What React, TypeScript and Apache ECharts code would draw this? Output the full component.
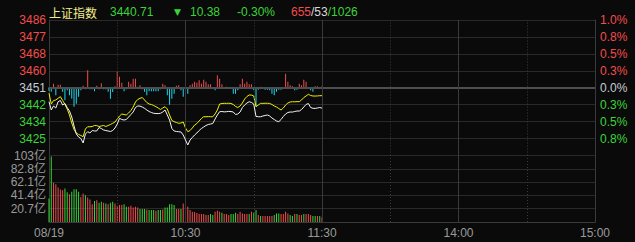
import React, { useEffect, useRef } from 'react';
import * as echarts from 'echarts';

// ---- data ----
const prevClose = 3451.09;
const indexName = '上证指数';
const breadth = [655, 53, 1026]; // up / flat / down
const tickIdx = [0, 60, 120, 180, 240];
const tickLabels = ['08/19', '10:30', '11:30', '14:00', '15:00'];
const solidIdx = [60, 120, 180];
const dottedIdx = [30, 90, 150, 210];

// weighted index (white)
const priceLine = [
  3443.98, 3439.76, 3441.79, 3440.77, 3443.98, 3444.60, 3442.30, 3443.07, 3441.03, 3439.25,
  3436.19, 3431.61, 3427.53, 3426.00, 3425.24, 3422.95, 3427.53, 3428.70, 3428.04, 3429.31,
  3429.06, 3429.10, 3430.84, 3430.33, 3429.57, 3429.31, 3429.06, 3428.80, 3429.31, 3430.59,
  3432.62, 3435.53, 3434.92, 3434.66, 3434.92, 3436.19, 3437.46, 3438.74, 3441.03, 3441.79,
  3441.75, 3441.28, 3440.62, 3439.76, 3438.99, 3438.48, 3438.07, 3437.97, 3437.92, 3438.07,
  3438.74, 3439.76, 3437.21, 3434.66, 3430.33, 3429.06, 3428.80, 3428.70, 3428.55, 3427.02,
  3424.47, 3421.93, 3424.47, 3425.75, 3427.02, 3428.04, 3429.31, 3430.33, 3431.10, 3431.86,
  3432.37, 3432.62, 3432.88, 3435.17, 3437.21, 3438.89, 3438.99, 3438.80, 3438.89, 3439.05,
  3438.95, 3438.74, 3437.46, 3437.72, 3438.74, 3441.03, 3442.30, 3443.32, 3443.98, 3443.58,
  3442.81, 3436.44, 3436.34, 3436.30, 3436.70, 3436.95, 3437.21, 3436.70, 3435.68, 3434.92,
  3434.15, 3433.80, 3434.92, 3436.44, 3437.72, 3438.48, 3438.74, 3438.70, 3438.99, 3439.25,
  3439.20, 3440.01, 3441.28, 3442.56, 3443.07, 3441.03, 3440.62, 3440.58, 3440.77, 3441.03,
  3440.71,
];

// unweighted index (yellow)
const avgLine = [
  3448.26, 3442.81, 3444.60, 3444.85, 3445.72, 3446.53, 3444.60, 3442.56, 3440.27, 3437.21,
  3433.13, 3429.82, 3428.04, 3427.28, 3426.77, 3426.15, 3430.08, 3431.25, 3431.20, 3431.35,
  3431.86, 3431.80, 3431.35, 3431.61, 3431.86, 3431.35, 3431.86, 3432.37, 3432.98, 3433.64,
  3435.17, 3436.70, 3437.72, 3437.46, 3437.21, 3438.23, 3439.50, 3441.28, 3443.83, 3445.10,
  3445.72, 3446.12, 3444.85, 3443.58, 3442.81, 3442.56, 3442.05, 3441.44, 3440.77, 3440.01,
  3440.77, 3441.44, 3440.27, 3437.21, 3434.41, 3433.80, 3433.39, 3432.98, 3433.13, 3433.64,
  3430.59, 3428.70, 3429.31, 3430.59, 3432.11, 3432.88, 3434.15, 3435.43, 3436.34, 3436.30,
  3436.40, 3436.34, 3436.30, 3437.72, 3439.76, 3442.81, 3443.07, 3443.17, 3443.12, 3443.20,
  3443.07, 3442.56, 3441.54, 3441.03, 3441.79, 3443.32, 3445.36, 3446.63, 3447.40, 3447.35,
  3446.89, 3441.44, 3442.30, 3443.17, 3443.12, 3443.20, 3443.17, 3443.10, 3442.56, 3441.79,
  3441.28, 3440.52, 3439.76, 3440.77, 3442.30, 3443.32, 3443.83, 3443.98, 3443.93, 3444.02,
  3443.98, 3444.85, 3446.12, 3446.89, 3447.75, 3447.14, 3446.89, 3446.85, 3446.92, 3447.04,
  3447.04,
];

// buy/sell strength bars (red up, cyan down)
const strength = [
  -3, -4, 4, -7.5, 3, 3, -4, -12.5, -2.5, -7.5,
  -10.8, -19, -16, -9, -2.5, 2, -1.5, 17.5, -1.5, -1.5,
  -3.5, 2, -1.5, 4.5, -1.5, -1.5, -4, -11, -4.2, 1.5,
  16, 11, 5, -3.5, -1.5, 6, 4, 9, 9, 1,
  2.5, -1.5, -4, -7.5, -3.5, -3.5, -3.5, -3.5, -3.5, -1.5,
  4, 2.5, -7.5, -17, -11, -6, 2, 2.5, -2.5, -9,
  -14, -6, 2.5, 4, 6, 5, 7.5, 4, 8, 6,
  3.5, 3.5, -1, -2.5, 12.5, 9, 3.5, -1, 1, -1,
  -1, -6, -6, -2.5, 3.5, 9, 4, 6, 3.5, 3.5,
  -2.5, -19, -2, 1, -1, -2, -2, -2.5, -6, -7.5,
  -4, -2, -2, -1, 14, 6, 2.5, 1.5, -2.5, -2,
  4, 2.5, 8, 6, -1, -2.5, -4, 1.5, 1.5, -1,
  1.5,
];

// volume, 亿
const volume = [
  36.6, 102, 61, 58.7, 53.6, 50.5, 49.4, 52, 46.4, 43.3,
  46.9, 51, 51, 46.9, 39, 44.3, 41.7, 38, 35, 27.8,
  32.5, 34, 29.9, 31.4, 29.9, 28.9, 27.8, 29.9, 31.4, 28.9,
  25.2, 26.3, 26.3, 27.8, 23.7, 23.7, 25.2, 22.7, 23.7, 22.7,
  20.1, 20.1, 20.1, 19.6, 18.5, 18.5, 18.5, 17.5, 18.5, 18.5,
  19.6, 22.7, 22.7, 27.8, 27.8, 26.3, 20.1, 20.1, 20.1, 28.9,
  30.4, 23.7, 18.5, 16, 15.5, 14, 12.4, 12.4, 12.4, 10.8,
  10.8, 12.4, 10.8, 16, 17.5, 16, 14.4, 12.4, 12.4, 10.8,
  12.4, 12.4, 14.4, 12.4, 16, 13.4, 12.4, 12.4, 12.4, 16,
  14.4, 18.5, 10.8, 9.3, 9.3, 9.3, 9.3, 9.3, 9.3, 10.8,
  13.4, 13.4, 12.4, 12.4, 16, 13.4, 10.8, 9.3, 12.4, 12.4,
  10.8, 10.8, 12.4, 12.4, 12.4, 10.8, 9.3, 9.3, 9.3, 9.3,
  7.2,
];

// volume bar colour: R = up minute, G = down minute
const volDir = (
  'GGRRRRRGGR' + 'GGGGRRGRRR' + 'GRGGRGRGGR' + 'RRRGGRRRRR' + 'GGGRGGGRGG' +
  'RGGGGGRRGR' + 'GRRRRRRRRR' + 'RGGRRRGRRR' + 'GGGRRRRRGR' + 'GGRGRRRRRG' +
  'GGRRRRGGRG' + 'RRGRRRGGRG' + 'R'
).split('');

// ---- styling ----
const RED = '#f24c4c';
const GREEN = '#3ad43a';
const CYAN = '#19d9f0';
const GRID = '#2a2a2a';
const BORDER = '#3a3a3a';
const AXIS_TXT = '#9a9a9a';
const FONT = '"Liberation Sans", Arial, "Noto Sans CJK SC", sans-serif';

export default function App() {
  const ref = useRef<HTMLDivElement>(null);

  useEffect(() => {
    if (!ref.current) return;
    const chart = echarts.init(ref.current, undefined, { renderer: 'svg' });

    const cats = Array.from({ length: 241 }, (_, i) => String(i));
    const pct = (p: number) => (p / prevClose - 1) * 100;
    const last = priceLine[priceLine.length - 1];
    const chg = last - prevClose;
    const chgPct = (chg / prevClose) * 100;
    const chgColor = chg < 0 ? GREEN : RED;

    const vMarks = (gridLabel: string) => ({
      silent: true,
      symbol: ['none', 'none'],
      label: { show: false },
      emphasis: { disabled: true },
      data: [
        ...solidIdx.map((i) => ({ xAxis: String(i), lineStyle: { color: BORDER, width: 1, type: 'solid' } })),
        ...dottedIdx.map((i) => ({ xAxis: String(i), lineStyle: { color: '#3a3a3a', width: 1, type: [1, 2] } })),
      ],
    });

    const option: any = {
      animation: false,
      backgroundColor: '#0a0a0a',
      textStyle: { fontFamily: FONT },
      grid: [
        { left: 49, right: 40, top: 20, height: 135.5 },
        { left: 49, right: 40, top: 155.5, height: 66.5 },
      ],
      graphic: [
        {
          type: 'text', x: 49, y: 12,
          style: { text: indexName, fill: '#f2ee8a', font: '12px "Noto Sans CJK SC", sans-serif', verticalAlign: 'middle' },
        },
        {
          type: 'text', x: 110, y: 12,
          style: { text: last.toFixed(2), fill: chgColor, font: '12px ' + FONT, verticalAlign: 'middle' },
        },
        {
          type: 'text', x: 174, y: 12,
          style: { text: chg < 0 ? '▼' : '▲', fill: chgColor, font: '9px "DejaVu Sans", sans-serif', verticalAlign: 'middle' },
        },
        {
          type: 'text', x: 190, y: 12,
          style: { text: Math.abs(chg).toFixed(2), fill: chgColor, font: '12px ' + FONT, verticalAlign: 'middle' },
        },
        {
          type: 'text', x: 237, y: 12,
          style: { text: chgPct.toFixed(2) + '%', fill: chgColor, font: '12px ' + FONT, verticalAlign: 'middle' },
        },
        {
          type: 'text', x: 291, y: 12,
          style: {
            text: `{r|${breadth[0]}}{w|/${breadth[1]}}{g|/${breadth[2]}}`,
            font: '12px ' + FONT,
            verticalAlign: 'middle',
            rich: {
              r: { fill: RED, font: '12px ' + FONT },
              w: { fill: '#d8d8d8', font: '12px ' + FONT },
              g: { fill: GREEN, font: '12px ' + FONT },
            },
          },
        },
      ],
      xAxis: [
        {
          type: 'category', gridIndex: 0, data: cats, boundaryGap: false,
          axisLine: { show: true, lineStyle: { color: '#3c3c3c', width: 2 } },
          axisTick: { show: false }, axisLabel: { show: false }, splitLine: { show: false },
        },
        {
          type: 'category', gridIndex: 1, data: cats, boundaryGap: false,
          axisLine: { show: true, lineStyle: { color: BORDER, width: 1 } },
          axisTick: { show: false },
          axisLabel: {
            show: true,
            interval: (i: number) => tickIdx.includes(i),
            formatter: (v: string) => {
              const k = tickIdx.indexOf(Number(v));
              return k >= 0 ? tickLabels[k] : '';
            },
            color: AXIS_TXT, fontSize: 12, margin: 5, fontFamily: FONT,
          },
          splitLine: { show: false },
        },
      ],
      yAxis: [
        {
          type: 'value', gridIndex: 0, position: 'left', min: -1, max: 1, interval: 0.25,
          axisLine: { show: true, lineStyle: { color: BORDER } },
          axisTick: { show: false },
          splitLine: { show: true, lineStyle: { color: GRID, width: 1 } },
          axisLabel: {
            margin: 3, fontSize: 12, fontFamily: FONT,
            formatter: (v: number) => (v <= -0.999 ? '' : String(Math.round(prevClose * (1 + v / 100)))),
            color: (v: any) => {
              const n = Number(v);
              return n > 0.001 ? RED : n < -0.001 ? GREEN : '#c4ccd4';
            },
          },
        },
        {
          type: 'value', gridIndex: 0, position: 'right', min: -1, max: 1, interval: 0.25,
          axisLine: { show: true, lineStyle: { color: BORDER } },
          axisTick: { show: false },
          splitLine: { show: false },
          axisLabel: {
            margin: 5, fontSize: 12, fontFamily: FONT,
            formatter: (v: number) => (v <= -0.999 ? '' : Math.abs(v).toFixed(1) + '%'),
            color: (v: any) => {
              const n = Number(v);
              return n > 0.001 ? RED : n < -0.001 ? GREEN : '#c4ccd4';
            },
          },
        },
        { type: 'value', gridIndex: 0, min: -68, max: 68, show: false, splitLine: { show: false } },
        {
          type: 'value', gridIndex: 1, position: 'left', min: 0, max: 103.5, interval: 20.7,
          axisLine: { show: true, lineStyle: { color: BORDER } },
          axisTick: { show: false },
          splitLine: { show: true, lineStyle: { color: GRID, width: 1 } },
          axisLabel: {
            margin: 3, fontSize: 12, fontFamily: FONT, color: AXIS_TXT,
            formatter: (v: number) => (v < 0.01 ? '' : (v >= 100 ? String(Math.floor(v)) : v.toFixed(1)) + '亿'),
          },
        },
        {
          type: 'value', gridIndex: 1, position: 'right', min: 0, max: 103.5,
          axisLine: { show: true, lineStyle: { color: BORDER } },
          axisTick: { show: false }, axisLabel: { show: false }, splitLine: { show: false },
        },
      ],
      series: [
        {
          type: 'bar', xAxisIndex: 0, yAxisIndex: 2, data: strength, barWidth: 1,
          itemStyle: { color: (p: any) => (p.value >= 0 ? RED : CYAN) },
          z: 2,
          markLine: {
            silent: true, symbol: ['none', 'none'], label: { show: false },
            data: [{ yAxis: 0, lineStyle: { color: '#4e4e4e', width: 2, type: 'solid' } }],
          },
        },
        {
          type: 'line', xAxisIndex: 0, yAxisIndex: 0, data: avgLine.map(pct),
          showSymbol: false, lineStyle: { color: '#f0f000', width: 1 }, z: 4,
          markLine: vMarks('p'),
        },
        {
          type: 'line', xAxisIndex: 0, yAxisIndex: 0, data: priceLine.map(pct),
          showSymbol: false, lineStyle: { color: '#f4f4f4', width: 1 }, z: 5,
        },
        {
          type: 'bar', xAxisIndex: 1, yAxisIndex: 3, barWidth: 1,
          data: volume.map((v, i) => ({ value: v, itemStyle: { color: volDir[i] === 'R' ? RED : GREEN } })),
          markLine: vMarks('v'),
        },
      ],
    };

    chart.setOption(option);
    return () => chart.dispose();
  }, []);

  return (
    <div
      ref={ref}
      style={{ position: 'fixed', left: 0, top: 0, width: 635, height: 242, background: '#0a0a0a' }}
    />
  );
}
